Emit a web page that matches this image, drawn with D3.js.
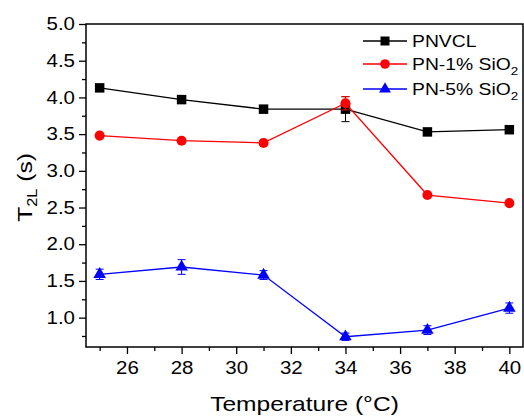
<!DOCTYPE html>
<html><head><meta charset="utf-8">
<script src="https://cdn.jsdelivr.net/npm/d3@7"></script>
<style>body{margin:0;background:#fff}svg{display:block}text{font-family:"Liberation Sans",Arial,sans-serif}</style>
</head><body>
<script>
const temps = [25, 28, 31, 34, 37, 40];
const pnvcl = [4.13, 3.97, 3.84, 3.84, 3.53, 3.56];
const pnvclErr = [0.02, 0.02, 0.02, 0.17, 0.02, 0.02];
const pn1 = [3.48, 3.41, 3.38, 3.92, 2.67, 2.56];
const pn1Err = [0.02, 0.02, 0.02, 0.09, 0.02, 0.02];
const pn5 = [1.59, 1.69, 1.58, 0.74, 0.83, 1.13];
const pn5Err = [0.07, 0.1, 0.06, 0.05, 0.06, 0.07];
const xMajor = [26, 28, 30, 32, 34, 36, 38, 40];
const xMinor = [25, 27, 29, 31, 33, 35, 37, 39];
const yMajor = [1.0, 1.5, 2.0, 2.5, 3.0, 3.5, 4.0, 4.5, 5.0];
const yMinor = [0.75, 1.25, 1.75, 2.25, 2.75, 3.25, 3.75, 4.25, 4.75];
const seriesNames = ["PNVCL", "PN-1% SiO", "PN-5% SiO"];

const W = 524, H = 416;
const L = 86, R = 523, T = 24, B = 347;
const STRETCH = 1.17;
const svg = d3.select("body").append("svg").attr("width", W).attr("height", H);
const x = d3.scaleLinear().domain([24.5, 40.5]).range([L, R]);
const y = d3.scaleLinear().domain([0.6, 5.0]).range([B, T]);

// axes
svg.append("g").attr("transform", `translate(0,${B})`)
  .call(d3.axisBottom(x).tickValues(xMajor).tickFormat(d3.format("d")).tickSize(7).tickSizeOuter(0).tickPadding(8));
svg.append("g").attr("transform", `translate(0,${B})`)
  .call(d3.axisBottom(x).tickValues(xMinor).tickFormat("").tickSize(4).tickSizeOuter(0));
svg.append("g").attr("transform", `translate(${L},0)`)
  .call(d3.axisLeft(y).tickValues(yMajor).tickFormat(d3.format(".1f")).tickSize(7).tickSizeOuter(0).tickPadding(4));
svg.append("g").attr("transform", `translate(${L},0)`)
  .call(d3.axisLeft(y).tickValues(yMinor).tickFormat("").tickSize(4).tickSizeOuter(0));
svg.selectAll(".domain").remove();
svg.selectAll(".tick line").attr("stroke", "#000").attr("stroke-width", 1.3);
svg.selectAll(".tick text").attr("font-size", 17.5).attr("fill", "#000").attr("font-family", "Liberation Sans, Arial, sans-serif");
svg.append("rect").attr("x", L).attr("y", T).attr("width", R - L).attr("height", B - T)
  .attr("fill", "none").attr("stroke", "#000").attr("stroke-width", 1.5);

// labels
svg.append("text").attr("x", (L + R) / 2).attr("y", 411).attr("text-anchor", "middle")
  .attr("font-size", 21).text("Temperature (°C)");
const yl = svg.append("text").attr("transform", `translate(32,${(T + B) / 2 + 2}) rotate(-90)`)
  .attr("text-anchor", "middle").attr("font-size", 21);
yl.append("tspan").text("T");
yl.append("tspan").attr("font-size", 14).attr("dy", 5).text("2L");
yl.append("tspan").attr("dy", -5).text(" (s)");

const series = [
  {vals: pnvcl, err: pnvclErr, color: "#000000", shape: d3.symbolSquare, size: 90},
  {vals: pn1, err: pn1Err, color: "#ff0000", shape: d3.symbolCircle, size: 80},
  {vals: pn5, err: pn5Err, color: "#0000ff", shape: d3.symbolTriangle, size: 68}
];
const line = d3.line().x(d => x(d[0])).y(d => y(d[1]));
series.forEach(s => {
  const pts = temps.map((t, i) => [t, s.vals[i], s.err[i]]);
  const g = svg.append("g");
  g.append("path").attr("d", line(pts)).attr("fill", "none").attr("stroke", s.color).attr("stroke-width", 1.3);
  pts.forEach(p => {
    const cx = x(p[0]), y1 = y(p[1] + p[2]), y2 = y(p[1] - p[2]);
    g.append("line").attr("x1", cx).attr("x2", cx).attr("y1", y1).attr("y2", y2).attr("stroke", s.color).attr("stroke-width", 1);
    g.append("line").attr("x1", cx - 4).attr("x2", cx + 4).attr("y1", y1).attr("y2", y1).attr("stroke", s.color).attr("stroke-width", 1);
    g.append("line").attr("x1", cx - 4).attr("x2", cx + 4).attr("y1", y2).attr("y2", y2).attr("stroke", s.color).attr("stroke-width", 1);
  });
  g.selectAll("path.m").data(pts).join("path").attr("class", "m")
    .attr("transform", d => `translate(${x(d[0])},${y(d[1])})`)
    .attr("d", d3.symbol().type(s.shape).size(s.size)).attr("fill", s.color);
});

// legend
const legY = [41, 64, 89];
series.forEach((s, i) => {
  const g = svg.append("g").attr("transform", `translate(0,${legY[i]})`);
  g.append("line").attr("x1", 363).attr("x2", 407).attr("stroke", s.color).attr("stroke-width", 1.3);
  g.append("path").attr("transform", "translate(385,0)").attr("d", d3.symbol().type(s.shape).size(s.size * 0.9)).attr("fill", s.color);
  const t = g.append("text").attr("x", 412).attr("y", 6).attr("font-size", 16.5).text(seriesNames[i]);
  if (i > 0) t.append("tspan").attr("font-size", 11.5).attr("dy", 5).text("2");
});

// widen glyphs to match the reference's wider typeface
svg.selectAll("text").each(function () {
  const len = this.getComputedTextLength();
  if (len > 0) d3.select(this).attr("textLength", len * STRETCH).attr("lengthAdjust", "spacingAndGlyphs");
});
</script>
</body></html>
